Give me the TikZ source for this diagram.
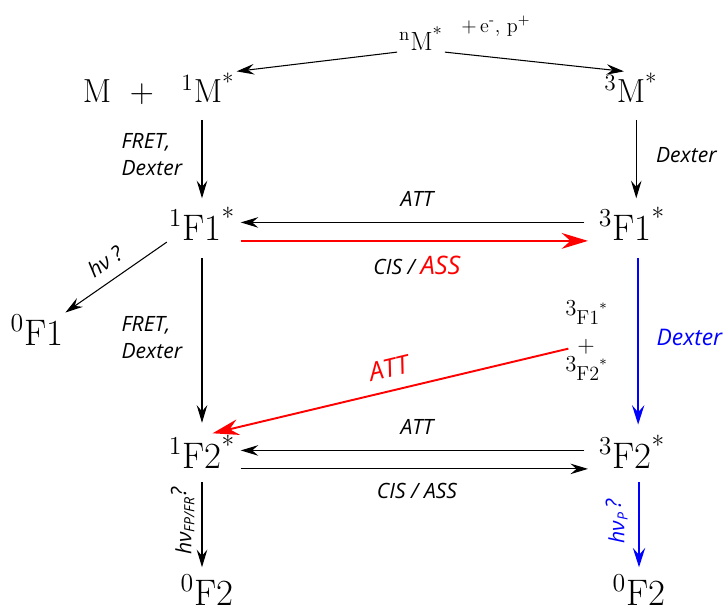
\documentclass[tikz,border=0pt]{standalone}
\usepackage{fontspec}
\newfontfamily\labfont{Open Sans}
\usetikzlibrary{arrows.meta,calc}

% small stacked triplet states
\newcommand{\stkf}[2]{{\fontsize{13}{15}\selectfont\raisebox{5pt}{#1}}{\fontsize{11.5}{14}\selectfont #2}\raisebox{6pt}{\fontsize{8}{9}\selectfont *}}

\begin{document}
\begin{tikzpicture}[x=0.02cm, y=-0.02cm,
    state/.style={anchor=base, inner sep=1pt, font=\fontsize{21}{24}\selectfont},
    pre/.style={state, font=\fontsize{19}{22}\selectfont},
    lab/.style={inner sep=2pt, font=\labfont\itshape\fontsize{12}{15}\selectfont},
    biglab/.style={lab, font=\labfont\itshape\fontsize{14.5}{17}\selectfont},
    arr/.style={-{Stealth[length=10pt,width=6pt,inset=3.5pt]}, line width=0.6pt},
    redarr/.style={-{Stealth[length=15pt,width=9pt,inset=5pt]}, line width=1.1pt, red},
    bluearr/.style={-{Stealth[length=11pt,width=7pt,inset=4pt]}, line width=1.1pt, blue}]
    \useasboundingbox (0,0) rectangle (728,610);

    % precursor states
    \node[state, font=\fontsize{15}{18}\selectfont] (nm) at (421,50) {\textsuperscript{n}M\textsuperscript{*}};
    \node[anchor=base, inner sep=1pt, font=\fontsize{11.5}{13}\selectfont] (ep) at (496,32) {+\,e\textsuperscript{-}, p\textsuperscript{+}};
    \node[pre] (mg) at (97,102) {M};
    \node[pre] (plus) at (142,102) {+};
    \node[pre] (m1) at (208,102) {\textsuperscript{1}M\textsuperscript{*}};
    \node[pre] (m3) at (631,102) {\textsuperscript{3}M\textsuperscript{*}};

    % F1 and F2 states
    \node[state] (f11) at (202,240) {\textsuperscript{1}F1\textsuperscript{*}};
    \node[state] (f31) at (632,240) {\textsuperscript{3}F1\textsuperscript{*}};
    \node[state] (f01) at (37,345) {\textsuperscript{0}F1};
    \node[state] (f12) at (202,468) {\textsuperscript{1}F2\textsuperscript{*}};
    \node[state] (f32) at (632,468) {\textsuperscript{3}F2\textsuperscript{*}};
    \node[state] (f02a) at (207,605) {\textsuperscript{0}F2};
    \node[state] (f02b) at (639,605) {\textsuperscript{0}F2};

    % triplet pair
    \node[anchor=base, inner sep=1pt] (s1) at (586,324) {\stkf{3}{F1}};
    \node[inner sep=1pt, font=\fontsize{13}{15}\selectfont] (splus) at (586,347) {+};
    \node[anchor=base, inner sep=1pt] (s2) at (586,380) {\stkf{3}{F2}};

    % formation
    \draw[arr] (nm.south west) -- (m1.north east);
    \draw[arr] (nm.south east) -- ([xshift=-4pt]m3.north);
    \draw[arr, shorten <=9pt, shorten >=4pt] (m1.south -| f11.north) -- (f11.north)
        node[midway, left=9pt, lab, align=left] {FRET,\\Dexter};
    \draw[arr, shorten <=9pt, shorten >=4pt] ([xshift=3pt]m3.south) -- ([xshift=3pt]m3.south |- f31.north)
        node[midway, right=9pt, lab] {Dexter};

    % F1 level
    \draw[arr, shorten <=7pt, shorten >=2pt] ([yshift=10pt]f31.base west) -- ([yshift=10pt]f11.base east)
        node[midway, above=7pt, lab] {ATT};
    \draw[redarr, shorten <=2pt, shorten >=5pt] ([yshift=-0.5pt]f11.base east) -- ([yshift=-0.5pt]f31.base west)
        node[midway, below=6pt, lab, black] {CIS / \textcolor{red}{\fontsize{14.5}{17}\selectfont ASS}};
    \draw[arr] (f11.south west) -- (f01.north east)
        node[pos=0.5, above=4pt, sloped, lab] {hν ?};
    \draw[arr, shorten <=9pt, shorten >=6pt] (f11.south) -- (f12.north)
        node[midway, left=9pt, lab, align=left] {FRET,\\Dexter};
    \draw[bluearr, shorten <=9pt, shorten >=5pt] ([xshift=3.5pt]f31.south) -- ([xshift=3.5pt]f32.north)
        node[midway, right=8pt, lab, font=\labfont\itshape\fontsize{13}{16}\selectfont] {Dexter};
    \draw[redarr, shorten <=4pt] (splus.west) -- ([xshift=6pt]f12.north)
        node[midway, above=5pt, sloped, biglab] {ATT};

    % F2 level
    \draw[arr, shorten <=7pt, shorten >=2pt] ([yshift=10pt]f32.base west) -- ([yshift=10pt]f12.base east)
        node[midway, above=7pt, lab] {ATT};
    \draw[arr, shorten <=2pt, shorten >=5pt] ([yshift=-0.5pt]f12.base east) -- ([yshift=-0.5pt]f32.base west)
        node[midway, below=6pt, lab] {CIS / ASS};
    \draw[arr, shorten <=7pt, shorten >=3pt] (f12.south) -- (f12.south |- f02a.north)
        node[midway, rotate=90, anchor=south, lab, inner sep=4pt] {hν\textsubscript{FP/FR}\raisebox{3pt}{?}};
    \draw[bluearr, shorten <=7pt, shorten >=3pt] ([xshift=4pt]f32.south) -- ([xshift=4pt]f32.south |- f02b.north)
        node[midway, rotate=90, anchor=south, lab, inner sep=6pt] {hν\textsubscript{P}\,\raisebox{2pt}{?}};
\end{tikzpicture}
\end{document}
